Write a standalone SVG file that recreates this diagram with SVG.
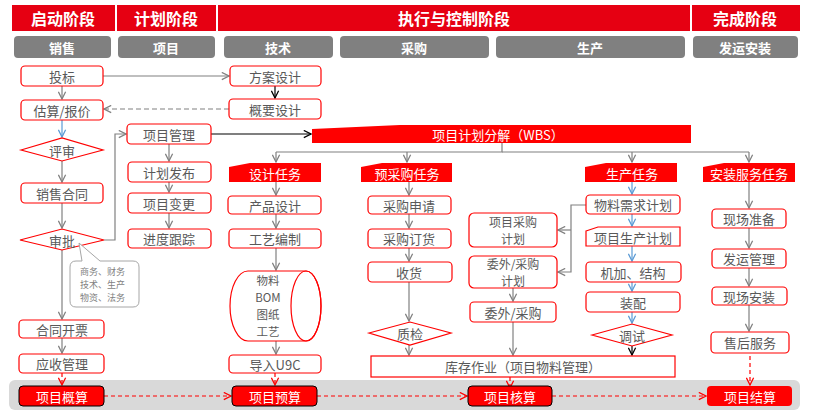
<svg xmlns="http://www.w3.org/2000/svg" width="836" height="415" viewBox="0 0 836 415">
<style>
.hd{fill:#e60012}
.ht{font-family:"Noto Sans CJK SC",sans-serif;font-size:16px;font-weight:bold;fill:#fff;text-anchor:middle;dominant-baseline:central}
.gb{fill:#808080}
.gt{font-family:"Noto Sans CJK SC",sans-serif;font-size:13px;font-weight:bold;fill:#fff;text-anchor:middle;dominant-baseline:central}
.n{fill:#fff;stroke:#ff0000;stroke-width:1.2}
.t{font-family:"Noto Sans CJK SC",sans-serif;font-size:13px;fill:#595959;text-anchor:middle;dominant-baseline:central}
.t2{font-family:"Noto Sans CJK SC",sans-serif;font-size:12px;fill:#595959;text-anchor:middle;dominant-baseline:central}
.tc{font-family:"Noto Sans CJK SC",sans-serif;font-size:11.5px;fill:#595959;text-anchor:middle;dominant-baseline:central}
.ts{font-family:"Noto Sans CJK SC",sans-serif;font-size:9px;fill:#7f7f7f;dominant-baseline:central}
.rt{fill:#ff0000}
.wt{font-family:"Noto Sans CJK SC",sans-serif;font-size:13px;fill:#fff;text-anchor:middle;dominant-baseline:central}
.g{fill:none;stroke:#808080;stroke-width:1.2}
.k{fill:none;stroke:#000;stroke-width:1.2}
.b{fill:none;stroke:#5b9bd5;stroke-width:1.2}
.r{fill:none;stroke:#ff0000;stroke-width:1.2;stroke-dasharray:4 3}
</style>
<defs>
<marker id="ag" viewBox="0 0 10 10" refX="9" refY="5" markerWidth="9" markerHeight="9" markerUnits="userSpaceOnUse" orient="auto"><path d="M1,1 L9,5 L1,9" fill="none" stroke="#808080" stroke-width="1.4"/></marker>
<marker id="ak" viewBox="0 0 10 10" refX="9" refY="5" markerWidth="9" markerHeight="9" markerUnits="userSpaceOnUse" orient="auto"><path d="M1,1 L9,5 L1,9" fill="none" stroke="#000" stroke-width="1.4"/></marker>
<marker id="ab" viewBox="0 0 10 10" refX="9" refY="5" markerWidth="9" markerHeight="9" markerUnits="userSpaceOnUse" orient="auto"><path d="M1,1 L9,5 L1,9" fill="none" stroke="#5b9bd5" stroke-width="1.4"/></marker>
<marker id="ar" viewBox="0 0 10 10" refX="9" refY="5" markerWidth="9" markerHeight="9" markerUnits="userSpaceOnUse" orient="auto"><path d="M1,1 L9,5 L1,9" fill="none" stroke="#ff0000" stroke-width="1.4"/></marker>
</defs>
<rect width="836" height="415" fill="#fff"/>

<g id="headers">
<rect class="hd" x="12" y="5" width="103" height="26"/><text class="ht" x="63" y="18">启动阶段</text>
<rect class="hd" x="117" y="5" width="99" height="26"/><text class="ht" x="166" y="18">计划阶段</text>
<rect class="hd" x="218" y="5" width="472" height="26"/><text class="ht" x="454" y="18">执行与控制阶段</text>
<rect class="hd" x="692" y="5" width="108" height="26"/><text class="ht" x="745" y="18">完成阶段</text>
</g>
<g id="lanes">
<rect class="gb" x="14" y="36" width="97" height="22" rx="4"/><text class="gt" x="62" y="47">销售</text>
<rect class="gb" x="118" y="36" width="97" height="22" rx="4"/><text class="gt" x="166" y="47">项目</text>
<rect class="gb" x="224" y="36" width="109" height="22" rx="4"/><text class="gt" x="278" y="47">技术</text>
<rect class="gb" x="340" y="36" width="149" height="22" rx="4"/><text class="gt" x="414" y="47">采购</text>
<rect class="gb" x="496" y="36" width="189" height="22" rx="4"/><text class="gt" x="590" y="47">生产</text>
<rect class="gb" x="693" y="36" width="105" height="22" rx="4"/><text class="gt" x="745" y="47">发运安装</text>
</g>
<rect id="band" x="9" y="380" width="791" height="30" rx="6" fill="#d9d9d9"/>

<g id="connectors">
<line class="g" x1="103" y1="76" x2="229" y2="76" marker-end="url(#ag)"/>
<line class="g" x1="62" y1="86" x2="62" y2="99" marker-end="url(#ag)"/>
<line class="k" x1="275" y1="86" x2="275" y2="98" marker-end="url(#ak)"/>
<line class="g" x1="229" y1="109" x2="104" y2="109" stroke-dasharray="5 3" marker-end="url(#ag)"/>
<line class="b" x1="62" y1="120" x2="62" y2="137" marker-end="url(#ab)"/>
<line class="g" x1="62" y1="161" x2="62" y2="182" marker-end="url(#ag)"/>
<line class="g" x1="62" y1="203" x2="62" y2="228" marker-end="url(#ag)"/>
<polyline class="g" points="104,240 115,240 115,134 126,134" marker-end="url(#ag)"/>
<line class="g" x1="62" y1="250" x2="62" y2="319" marker-end="url(#ag)"/>
<line class="g" x1="62" y1="338" x2="62" y2="353" marker-end="url(#ag)"/>
<line class="r" x1="62" y1="373" x2="62" y2="385" marker-end="url(#ar)"/>
<line class="g" x1="169" y1="144" x2="169" y2="161" marker-end="url(#ag)"/>
<line class="g" x1="169" y1="182" x2="169" y2="192" marker-end="url(#ag)"/>
<line class="g" x1="169" y1="213" x2="169" y2="228" marker-end="url(#ag)"/>
<line class="k" x1="211" y1="134" x2="311" y2="134" marker-end="url(#ak)"/>
<polyline class="g" points="502,143 502,152 276,152"/>
<line class="g" x1="502" y1="152" x2="749" y2="152"/>
<line class="g" x1="276" y1="152" x2="276" y2="162" marker-end="url(#ag)"/>
<line class="g" x1="407" y1="152" x2="407" y2="162" marker-end="url(#ag)"/>
<line class="g" x1="632" y1="152" x2="632" y2="162" marker-end="url(#ag)"/>
<line class="g" x1="749" y1="152" x2="749" y2="162" marker-end="url(#ag)"/>
<line class="g" x1="276" y1="182" x2="276" y2="195" marker-end="url(#ag)"/>
<line class="g" x1="276" y1="214" x2="276" y2="228" marker-end="url(#ag)"/>
<line class="g" x1="276" y1="248" x2="276" y2="270" marker-end="url(#ag)"/>
<line class="g" x1="276" y1="341" x2="276" y2="354" marker-end="url(#ag)"/>
<line class="r" x1="275" y1="373" x2="275" y2="385" marker-end="url(#ar)"/>
<line class="g" x1="409" y1="182" x2="409" y2="195" marker-end="url(#ag)"/>
<line class="g" x1="409" y1="214" x2="409" y2="228" marker-end="url(#ag)"/>
<line class="g" x1="409" y1="248" x2="409" y2="261" marker-end="url(#ag)"/>
<line class="g" x1="409" y1="282" x2="409" y2="321" marker-end="url(#ag)"/>
<line class="g" x1="409" y1="345" x2="409" y2="355" marker-end="url(#ag)"/>
<polyline class="g" points="586,205 571,205 571,272 558,272" marker-end="url(#ag)"/>
<line class="g" x1="571" y1="230" x2="558" y2="230" marker-end="url(#ag)"/>
<line class="g" x1="513" y1="288" x2="513" y2="301" marker-end="url(#ag)"/>
<line class="g" x1="513" y1="322" x2="513" y2="355" marker-end="url(#ag)"/>
<line class="b" x1="632" y1="182" x2="632" y2="194" marker-end="url(#ab)"/>
<line class="b" x1="632" y1="214" x2="632" y2="226" marker-end="url(#ab)"/>
<line class="b" x1="632" y1="246" x2="632" y2="261" marker-end="url(#ab)"/>
<line class="b" x1="632" y1="282" x2="632" y2="291" marker-end="url(#ab)"/>
<line class="b" x1="632" y1="312" x2="632" y2="323" marker-end="url(#ab)"/>
<line class="k" x1="632" y1="346" x2="632" y2="355" marker-end="url(#ak)"/>
<line class="g" x1="749" y1="182" x2="749" y2="208" marker-end="url(#ag)"/>
<line class="g" x1="749" y1="228" x2="749" y2="248" marker-end="url(#ag)"/>
<line class="g" x1="749" y1="268" x2="749" y2="286" marker-end="url(#ag)"/>
<line class="g" x1="749" y1="305" x2="749" y2="331" marker-end="url(#ag)"/>
<line class="r" x1="510" y1="377" x2="510" y2="388" marker-end="url(#ar)"/>
<line class="r" x1="750" y1="342" x2="750" y2="385" marker-end="url(#ar)"/>
<line class="r" x1="104" y1="396" x2="231" y2="396" marker-end="url(#ar)"/>
<line class="r" x1="317" y1="396" x2="467" y2="396" marker-end="url(#ar)"/>
<line class="r" x1="552" y1="396" x2="706" y2="396" marker-end="url(#ar)"/>
</g>

<g id="n-toubiao"><rect class="n" x="21" y="66" width="82" height="20" rx="4"/><text class="t" x="62" y="76">投标</text></g>
<g id="n-guji"><rect class="n" x="21" y="100" width="82" height="20" rx="4"/><text class="t" x="62" y="110">估算/报价</text></g>
<g id="n-pingshen"><polygon class="n" points="21,150 62,138 103,150 62,161"/><text class="t" x="62" y="150">评审</text></g>
<g id="n-hetong"><rect class="n" x="21" y="183" width="82" height="20" rx="4"/><text class="t" x="62" y="193">销售合同</text></g>
<g id="n-shenpi"><polygon class="n" points="20,240 62,229 104,240 62,250"/><text class="t" x="62" y="240">审批</text></g>
<g id="n-note"><path d="M76,261 L82,261 L79,243 L100,261 L133,261 Q139,261 139,267 L139,301 Q139,307 133,307 L76,307 Q70,307 70,301 L70,267 Q70,261 76,261 Z" fill="#fff" stroke="#a6a6a6" stroke-width="1"/>
<text class="ts" x="80" y="271">商务、财务</text><text class="ts" x="80" y="284.3">技术、生产</text><text class="ts" x="80" y="297.6">物资、法务</text></g>
<g id="n-kaipiao"><rect class="n" x="19" y="320" width="85" height="18" rx="4"/><text class="t" x="62" y="329">合同开票</text></g>
<g id="n-yingshou"><rect class="n" x="19" y="354" width="85" height="19" rx="4"/><text class="t" x="62" y="363">应收管理</text></g>
<g id="n-gaisuan"><rect x="19" y="386" width="85" height="20" rx="4" fill="#ff0000" stroke="#000" stroke-width="1"/><text class="wt" x="62" y="396">项目概算</text></g>

<g id="n-xmgl"><rect class="n" x="127" y="124" width="84" height="20" rx="4"/><text class="t" x="169" y="134">项目管理</text></g>
<g id="n-jhfb"><rect class="n" x="128" y="162" width="83" height="20" rx="4"/><text class="t" x="169" y="172">计划发布</text></g>
<g id="n-xmbg"><rect class="n" x="128" y="193" width="83" height="20" rx="4"/><text class="t" x="169" y="203">项目变更</text></g>
<g id="n-jdgz"><rect class="n" x="128" y="229" width="83" height="19" rx="4"/><text class="t" x="169" y="238">进度跟踪</text></g>

<g id="n-fasj"><rect class="n" x="230" y="66" width="91" height="20" rx="4"/><text class="t" x="275" y="76">方案设计</text></g>
<g id="n-gysj"><rect class="n" x="229" y="99" width="92" height="20" rx="4"/><text class="t" x="275" y="109">概要设计</text></g>

<g id="n-wbs"><polygon class="rt" points="312,129 400,125 691,125 691,143 312,143"/><text class="wt" x="498" y="134">项目计划分解（WBS）</text></g>

<g id="n-sjrw"><polygon class="rt" points="229,167 250,163 321,163 321,182 229,182"/><text class="wt" x="275" y="173">设计任务</text></g>
<g id="n-ycg"><polygon class="rt" points="361,167 382,163 452,163 452,182 361,182"/><text class="wt" x="407" y="173">预采购任务</text></g>
<g id="n-scrw"><polygon class="rt" points="585,167 606,163 677,163 677,182 585,182"/><text class="wt" x="632" y="173">生产任务</text></g>
<g id="n-azrw"><polygon class="rt" points="703,167 724,163 795,163 795,182 703,182"/><text class="wt" x="749" y="173">安装服务任务</text></g>

<g id="n-cpsj"><rect class="n" x="228" y="196" width="93" height="18" rx="4"/><text class="t" x="275" y="205">产品设计</text></g>
<g id="n-gybz"><rect class="n" x="229" y="229" width="92" height="19" rx="4"/><text class="t" x="275" y="238">工艺编制</text></g>
<g id="n-bom"><path class="n" d="M248,271 L306,271 A15,35 0 0 1 306,341 L248,341 A18,35 0 0 1 248,271 Z"/><ellipse cx="306" cy="306" rx="15" ry="35" fill="none" stroke="#ff0000" stroke-width="1.2"/>
<text class="tc" x="268" y="280">物料</text><text class="tc" x="268" y="297">BOM</text><text class="tc" x="268" y="314">图纸</text><text class="tc" x="268" y="331">工艺</text></g>
<g id="n-u9c"><rect class="n" x="229" y="355" width="92" height="18" rx="4"/><text class="t" x="275" y="364">导入U9C</text></g>

<g id="n-cgsq"><rect class="n" x="368" y="196" width="83" height="18" rx="4"/><text class="t" x="409" y="205">采购申请</text></g>
<g id="n-cgdh"><rect class="n" x="368" y="229" width="83" height="19" rx="4"/><text class="t" x="409" y="238">采购订货</text></g>
<g id="n-sh"><rect class="n" x="368" y="262" width="84" height="20" rx="4"/><text class="t" x="409" y="272">收货</text></g>
<g id="n-zj"><polygon class="n" points="369,333 410,322 451,333 410,345"/><text class="t" x="410" y="333">质检</text></g>

<g id="n-xmcgjh"><rect class="n" x="469" y="213" width="88" height="34" rx="5"/><text class="t2" x="513" y="221.2">项目采购</text><text class="t2" x="513" y="238.8">计划</text></g>
<g id="n-wwcgjh"><rect class="n" x="469" y="256" width="88" height="32" rx="5"/><text class="t2" x="513" y="263.2">委外/采购</text><text class="t2" x="513" y="280.8">计划</text></g>
<g id="n-wwcg"><rect class="n" x="470" y="302" width="86" height="20" rx="4"/><text class="t" x="513" y="312">委外/采购</text></g>

<g id="n-wlxq"><rect class="n" x="586" y="195" width="94" height="19" rx="4"/><text class="t" x="633" y="204">物料需求计划</text></g>
<g id="n-xmsc"><polygon class="n" points="586,231 598,227 680,227 680,246 586,246"/><text class="t" x="633" y="237">项目生产计划</text></g>
<g id="n-jj"><rect class="n" x="586" y="262" width="95" height="20" rx="4"/><text class="t" x="633" y="272">机加、结构</text></g>
<g id="n-zp"><rect class="n" x="586" y="292" width="94" height="20" rx="4"/><text class="t" x="633" y="302">装配</text></g>
<g id="n-ts"><polygon class="n" points="592,335 632,324 672,335 632,346"/><text class="t" x="632" y="335">调试</text></g>

<g id="n-kc"><rect class="n" x="371" y="356" width="304" height="21"/><text class="t" x="523" y="366">库存作业（项目物料管理）</text></g>

<g id="n-xczb"><rect class="n" x="712" y="209" width="74" height="19" rx="4"/><text class="t" x="749" y="218">现场准备</text></g>
<g id="n-fygl"><rect class="n" x="712" y="249" width="74" height="19" rx="4"/><text class="t" x="749" y="258">发运管理</text></g>
<g id="n-xcaz"><rect class="n" x="712" y="287" width="75" height="18" rx="4"/><text class="t" x="749" y="296">现场安装</text></g>
<g id="n-shfw"><rect class="n" x="711" y="332" width="78" height="21" rx="4"/><text class="t" x="750" y="342">售后服务</text></g>

<g id="n-yusuan"><rect x="232" y="386" width="85" height="20" rx="4" fill="#ff0000" stroke="#000" stroke-width="1"/><text class="wt" x="275" y="396">项目预算</text></g>
<g id="n-hesuan"><rect x="468" y="386" width="84" height="20" rx="4" fill="#ff0000" stroke="#000" stroke-width="1"/><text class="wt" x="510" y="396">项目核算</text></g>
<g id="n-jiesuan"><rect x="707" y="386" width="85" height="20" rx="4" fill="#ff0000"/><text class="wt" x="750" y="396">项目结算</text></g>
</svg>
